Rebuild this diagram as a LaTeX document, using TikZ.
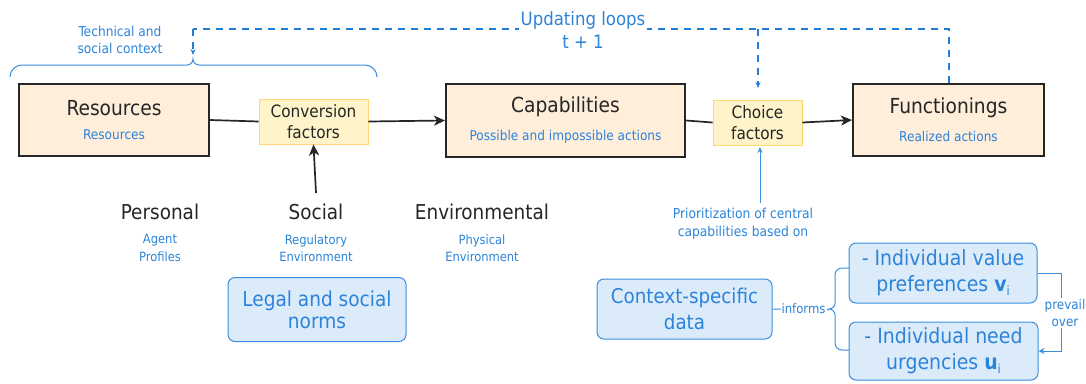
\documentclass[tikz,border=0pt]{standalone}
\usepackage{fontspec}
\setmainfont{DejaVu Sans Condensed}
\usetikzlibrary{arrows.meta}
\definecolor{ink}{HTML}{262626}
\definecolor{bluetxt}{HTML}{2C83DA}
\definecolor{blueline}{HTML}{3A8EDB}
\definecolor{loopblue}{HTML}{1F7FD6}
\definecolor{bluefill}{HTML}{DCEBFA}
\definecolor{peach}{HTML}{FFEEDA}
\definecolor{lemon}{HTML}{FFF3C9}
\definecolor{lemonline}{HTML}{FFD873}
% \fs[line spacing factor]{size}
\newcommand{\fs}[2][1.2]{\fontsize{#2}{\fpeval{#1*#2}}\selectfont}
\begin{document}
\begin{tikzpicture}[x=1pt,y=-1pt,
  mainbox/.style={draw=ink, line width=2pt, fill=peach, align=center, inner sep=0pt, text=ink},
  factorbox/.style={draw=lemonline, line width=0.9pt, fill=lemon, align=center, inner sep=0pt, font={\fs[1.25]{17}}, text=ink},
  notebox/.style={draw=blueline, line width=1pt, fill=bluefill, rounded corners=7pt, align=center, inner sep=0pt, text=bluetxt},
  sub/.style={text=bluetxt, font={\fs[1.35]{12.8}}, align=center},
  cat/.style={text=ink, font={\fs{20.5}}, align=center},
  flow/.style={draw=ink, line width=1.7pt},
  bluearrow/.style={draw=blueline, line width=1pt, -{Stealth[length=6pt,width=5pt]}},
  loop/.style={draw=loopblue, line width=1.4pt, dash pattern=on 7pt off 6pt},
  bluewire/.style={draw=blueline, line width=1pt}]
\useasboundingbox (0,0) rectangle (1086,383);

% main boxes
\node[mainbox, minimum width=190, minimum height=72] (res) at (114,120)
  {{\fs{20.7}Resources}\\[12.5pt]{\color{bluetxt}\fs{13.5}Resources}};
\node[mainbox, minimum width=239, minimum height=73] (cap) at (565.5,120.5)
  {{\fs{20.7}Capabilities}\\[12.5pt]{\color{bluetxt}\fs{13.5}Possible and impossible actions}};
\node[mainbox, minimum width=191, minimum height=72] (fun) at (948.5,120)
  {{\fs{20.7}Functionings}\\[12.5pt]{\color{bluetxt}\fs{13.5}Realized actions}};

% factor boxes
\node[factorbox, minimum width=109, minimum height=45] (conv) at (313.5,121.5) {Conversion\\factors};
\node[factorbox, minimum width=89, minimum height=45] (choice) at (757.5,122.5) {Choice\\factors};

% main flow
\draw[flow] (res.east) -- (conv.west);
\draw[flow, -{Stealth[length=11pt,width=10pt,inset=3pt]}] (conv.east) -- (cap.west);
\draw[flow] (cap.east) -- (choice.west);
\draw[flow, -{Stealth[length=11pt,width=10pt,inset=3pt]}] (choice.east) -- (fun.west);

% conversion factor categories
\node[cat] (pers) at (160,212) {Personal};
\node[cat] (soc) at (316,212) {Social};
\node[cat] (env) at (482,212) {Environmental};
\node[sub] (persd) at (160,248) {Agent\\Profiles};
\node[sub] (socd) at (316,248) {Regulatory\\Environment};
\node[sub] (envd) at (482,248) {Physical\\Environment};
\draw[flow, -{Stealth[length=11pt,width=10pt,inset=3pt]}] (316,193) -- (conv.south);

\node[notebox, font={\fs[1.08]{20.6}}, minimum width=178, minimum height=64] (legal) at (317,309.5) {Legal and social\\norms};

% choice factors inputs
\node[sub, font={\fs[1.3]{13.7}}] (prio) at (743,224) {Prioritization of central\\capabilities based on};
\draw[bluearrow] (760,203) -- (760,147);

\node[notebox, font={\fs[1.3]{20.3}}, minimum width=175, minimum height=60] (ctx) at (684.5,309) {Context-specific\\data};
\node[notebox, font={\fs[1.24]{21}}, minimum width=188, minimum height=60] (val) at (943,273)
  {- Individual value\\preferences {\bfseries v}\raisebox{-0.35ex}{\fs{12.5}i}};
\node[notebox, font={\fs[1.24]{21}}, minimum width=189, minimum height=58] (need) at (943.5,351)
  {- Individual need\\urgencies {\bfseries u}\raisebox{-0.35ex}{\fs{12.5}i}};

% "informs" brace
\coordinate (btip) at (829,310);
\draw[bluewire] (ctx.east) -- (btip);
\draw[bluewire] (849,268) -- (842,268) arc[start angle=270, end angle=180, radius=7]
  -- (835,303) arc[start angle=0, end angle=90, radius=6]
  arc[start angle=270, end angle=360, radius=6]
  -- (835,343) arc[start angle=180, end angle=90, radius=7] -- (849,350);
\node[fill=white, text=bluetxt, font={\fs{13}}, inner sep=1pt] (inf) at (803.5,309) {informs};

% "prevail over"
\coordinate (pv) at (1061,273);
\draw[bluewire, -{Stealth[length=6pt,width=6pt]}] (val.east) -- (pv) |- (need.east);
\node[fill=white, text=bluetxt, font={\fs[1.3]{13.3}}, align=center, inner sep=1pt] (prev) at (1065,313) {prevail\\over};

% context brace over resources and conversion factors
\coordinate (ctip) at (193,60);
\draw[bluewire] (10,77) arc[start angle=180, end angle=270, radius=12] -- (187,65)
  arc[start angle=90, end angle=0, radius=6] arc[start angle=180, end angle=90, radius=6]
  -- (365,65) arc[start angle=270, end angle=360, radius=12];
\node[text=bluetxt, font={\fs[1.3]{13.6}}, align=center] (tech) at (120,40) {Technical and\\social context};

% updating loops
\coordinate (loopR) at (949,29);
\coordinate (loopL) at (193,29);
\coordinate (loopC) at (758,29);
\draw[loop] (fun.north -| loopR) -- (loopR) -- (loopL);
\draw[loop, -{Stealth[length=6pt,width=5pt]}] (loopL) -- (193,55);
\draw[loop, -{Stealth[length=6pt,width=5pt]}] (loopC) -- (758,88);
\node[fill=white, text=bluetxt, font={\fs[1.2]{18.4}}, align=center, inner sep=2pt] (upd) at (583,30)
  {Updating loops\\t + 1};
\end{tikzpicture}
\end{document}
